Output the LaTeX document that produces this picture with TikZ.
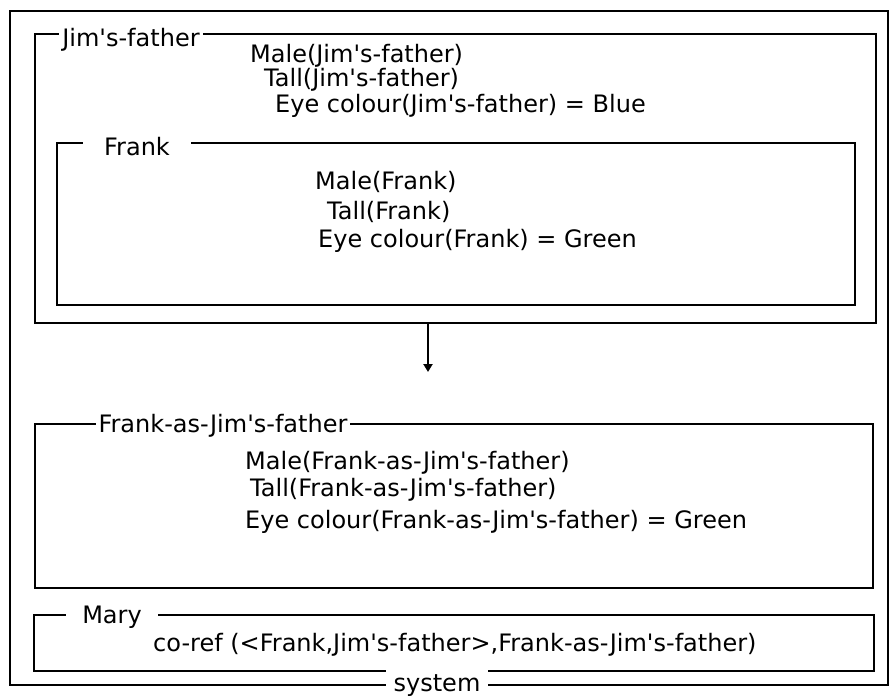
\documentclass[tikz,border=0pt]{standalone}
\usepackage{fontspec}
\setmainfont{DejaVu Sans}[Ligatures=TeXOff]
\usetikzlibrary{arrows.meta, positioning, fit}

\begin{document}
\begin{tikzpicture}[x=1pt, y=-1pt,
    frame/.style={draw, line width=2pt, inner sep=0pt},
    tag/.style={fill=white, inner ysep=1pt, inner xsep=3pt, font=\fontsize{24}{28}\selectfont},
    fact/.style={anchor=west, inner sep=0pt, font=\fontsize{24}{28}\selectfont},
    link/.style={line width=2pt, -{Triangle[length=8pt, width=9pt]}}]
    \useasboundingbox (0,0) rectangle (895,697);

    % Box esterno
    \node[frame, fit={(10,11) (888,685)}] (system) {};

    % Jim's-father
    \node[frame, fit={(35,34) (876,323)}] (jim) {};
    \node[tag] (jimtag) at (131,40) {Jim's-father};
    \node[fact] (jimmale) at (250,56) {Male(Jim's-father)};
    \node[fact] (jimtall) at (264,80) {Tall(Jim's-father)};
    \node[fact] (jimeye) at (275,106) {Eye colour(Jim's-father) = Blue};

    % Frank
    \node[frame, fit={(57,143) (855,305)}] (frank) {};
    \node[tag, inner xsep=21pt] (franktag) at (137,147) {Frank};
    \node[fact] (frankmale) at (315,182) {Male(Frank)};
    \node[fact] (franktall) at (327,212) {Tall(Frank)};
    \node[fact] (frankeye) at (318,241) {Eye colour(Frank) = Green};

    % Freccia
    \coordinate (tip) at (428,372);
    \draw[link] (tip |- jim.south) -- (tip);

    % Frank-as-Jim's-father
    \node[frame, fit={(35,424) (873,588)}] (frankas) {};
    \node[tag] (frankastag) at (223,426) {Frank-as-Jim's-father};
    \node[fact] (frankasmale) at (245,463) {Male(Frank-as-Jim's-father)};
    \node[fact] (frankastall) at (250,490) {Tall(Frank-as-Jim's-father)};
    \node[fact] (frankaseye) at (245,522) {Eye colour(Frank-as-Jim's-father) = Green};

    % Mary
    \node[frame, fit={(34,615) (874,671)}] (mary) {};
    \node[tag, inner xsep=16pt] (marytag) at (112,617) {Mary};
    \node[fact] (coref) at (153,645) {co-ref (<Frank,Jim's-father>,Frank-as-Jim's-father)};

    % system
    \node[tag, inner xsep=8pt, minimum height=34pt] (systemtag) at (437,686) {system};
\end{tikzpicture}
\end{document}
